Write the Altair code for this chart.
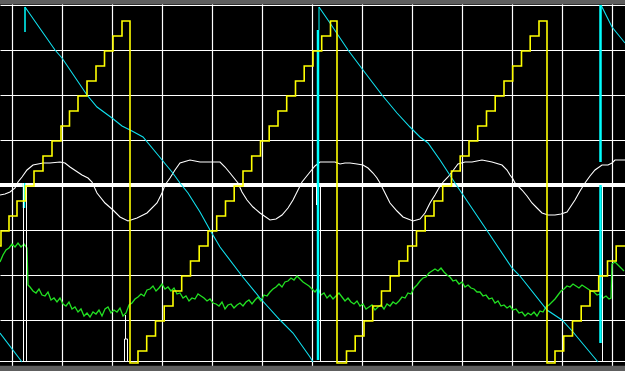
import altair as alt
import pandas as pd

# Horizontal: sample index (50 samples per division); vertical: raw counts (45 per division)
X_DOMAIN = [-12, 613]
Y_DOMAIN = [-186, 185]
grid_t = [0, 50, 100, 150, 200, 250, 300, 350, 400, 450, 500, 550, 600]
grid_y = [-135, -90, -45, 45, 90, 135, 180]

# ---- yellow staircase (counter) ----
yellow_levels = [-166, -151, -136, -121, -106, -91, -76, -61, -46, -31, -16, -1,
                 14, 29, 44, 59, 74, 89, 104, 119, 134, 149, 164]
yellow_low = -178
yellow_a_t = [-12, -11, -3, 5, 13.5, 22, 31, 40, 49, 57.5, 66, 75, 84, 92.5, 101, 110]   # k = 7..22
yellow_b_t = [126, 134.7, 143.5, 152.2, 161, 169.7, 178.5, 187.2, 196, 204.7, 213.5, 222.2,
              231, 239.7, 248.5, 257.2, 266, 274.7, 283.5, 292.2, 301, 309.7, 318.5]
yellow_c_t = [334.5, 343.2, 352, 360.7, 369.5, 378.2, 387, 395.7, 404.5, 413.2, 422, 430.7,
              439.5, 448.2, 457, 465.7, 474.5, 483.2, 492, 500.7, 509.5, 518.2, 527]
yellow_d_t = [543, 551.7, 560.5, 569.2, 578, 586.7, 595.5, 604.2]                          # k = 0..7
yellow_drops = [118, 325, 535]

# ---- cyan ramp ----
cyan_seg0_t = [-12, 10]
cyan_seg0_y = [-148, -177]
cyan_seg1_t = [13, 43, 50, 75, 85, 100, 110, 120, 131, 146, 155, 160, 168, 176, 188, 198, 208,
               230, 248, 268, 281, 298, 301]
cyan_seg1_y = [178, 135, 127, 90, 78, 67, 59, 54, 48, 30, 19, 13, 2, -8, -27, -45, -62,
               -91, -113, -135, -148, -172, -177]
cyan_seg2_t = [307, 318, 336, 351, 370, 385, 398, 408, 416, 428, 443, 476, 500, 508, 535, 550, 561, 586]
cyan_seg2_y = [178, 162, 135, 115, 90, 72, 58, 48, 42, 25, 2, -47, -83, -91, -125, -135, -147, -177]
cyan_seg3_t = [589, 600, 613]
cyan_seg3_y = [180, 158, 142]

# ---- white smooth wave ----
white_t = [-12, -7, -2, 3, 6, 10, 15, 21, 31, 38, 48, 53, 58, 64, 70, 76, 80, 85, 93, 101, 108, 116,
           125, 135, 145, 150, 153, 158, 163, 168, 178, 188, 198, 208, 213, 218, 222, 226, 230, 235,
           241, 248, 258, 264, 270, 276, 281, 286, 290, 294, 298, 303, 308, 323, 328, 333, 338, 345,
           351, 356, 361, 365, 368, 373, 378, 385, 391, 401, 408, 413, 418, 423, 428, 432, 436, 440,
           446, 453, 460, 470, 480, 490, 495, 498, 501, 503, 510, 515, 520, 525, 530, 536, 543, 549,
           555, 559, 563, 568, 573, 578, 583, 590, 596, 600, 603, 613]
white_y = [-10, -9, -7, -3, 3, 8, 15, 20, 22, 22, 23, 22, 18, 14, 10, 7, 3, -8, -18, -25, -32, -36,
           -33, -28, -18, -8, 0, 7, 15, 22, 25, 23, 23, 23, 18, 12, 7, 2, -7, -15,
           -22, -28, -35, -34, -30, -23, -15, -5, 3, 8, 13, 19, 23, 23, 21, 22, 22, 21,
           20, 17, 12, 7, 2, -8, -18, -26, -32, -36, -34, -28, -18, -10, -1, 4, 8, 13,
           21, 23, 23, 25, 23, 20, 15, 10, 6, 2, -5, -11, -18, -23, -28, -30, -30, -29,
           -27, -21, -15, -6, 2, 9, 15, 20, 20, 22, 25, 25]

# ---- green noisy trace ----
green_head_t = [-12, -9, -6, -3, 0, 3, 6, 9, 12, 15, 16]
green_head_y = [-77, -70, -65, -63, -59, -62, -58, -62, -59, -63, -100]
green_body_y = [
    -102, -106, -108, -104, -110, -111, -107, -115, -113, -117,
    -113, -119, -121, -117, -124, -122, -127, -124, -131, -128,
    -132, -127, -129, -125, -131, -124, -122, -128, -125, -127,
    -123, -131, -128, -120, -118, -114, -112, -109, -111, -105,
    -104, -101, -106, -103, -99, -104, -102, -106, -103, -109,
    -108, -113, -111, -116, -113, -114, -109, -111, -113, -116,
    -114, -118, -119, -121, -117, -124, -120, -119, -123, -120,
    -118, -121, -117, -115, -119, -115, -112, -116, -110, -111,
    -107, -104, -102, -99, -102, -97, -96, -93, -95, -91,
    -94, -97, -99, -101, -104, -107, -103, -110, -108, -113,
    -110, -114, -111, -108, -112, -116, -113, -117, -119, -116,
    -121, -119, -124, -122, -120, -125, -122, -120, -124, -119,
    -121, -117, -119, -116, -112, -113, -108, -109, -103, -100,
    -96, -93, -92, -88, -86, -84, -86, -83, -87, -90,
    -92, -96, -95, -99, -97, -102, -100, -103, -104, -107,
    -107, -111, -110, -114, -113, -118, -116, -121, -120, -123,
    -121, -125, -124, -128, -127, -131, -128, -130, -127, -131,
    -126, -127, -122, -120, -117, -114, -110, -106, -104, -101,
    -102, -99, -101, -103, -100, -102, -104, -106, -107, -110,
    -109, -113, -111, -114]
green_body_t = list(range(18, 598, 3))  # sampling clock
green_tail_t = [599, 600, 603, 606, 609, 612]
green_tail_y = [-113, -79, -77, -80, -83, -86]

# ---- vertical markers / retrace strokes: (t, y1, y2, colour, width) ----
v_t = [13, 12, 307, 306, 588.5, 588.5, 11.5, 14.5, 113.5, 112.5, 115.5, 304.5, 308.5, 590.5]
v_y1 = [178, 2, 178, 155, 180, 0, 2, 2, -130, -154, -154, 0, 2, 2]
v_y2 = [153, -23, 155, -175, 23, -158, -176.5, -176.5, -154, -176.5, -176.5, -20, -176.5, -176.5]
v_col = ["cyan", "cyan", "cyan", "cyan", "cyan", "cyan", "white", "white", "white", "white",
         "white", "white", "white", "white"]
v_w = [1.5, 2.5, 1, 2.5, 2.5, 2.5, 1, 1, 1, 1, 1, 1, 1, 1]

# ---------------- build tables ----------------
yrows = []
for t, lv in zip(yellow_a_t, yellow_levels[7:]):
    yrows.append((t, lv))
yrows.append((yellow_drops[0], yellow_low))
for t, lv in zip(yellow_b_t, yellow_levels):
    yrows.append((t, lv))
yrows.append((yellow_drops[1], yellow_low))
for t, lv in zip(yellow_c_t, yellow_levels):
    yrows.append((t, lv))
yrows.append((yellow_drops[2], yellow_low))
for t, lv in zip(yellow_d_t, yellow_levels):
    yrows.append((t, lv))
yrows.append((613, yellow_levels[7]))
yellow_df = pd.DataFrame(yrows, columns=["t", "y"])

crows = []
for s, (ts, ys_) in enumerate([(cyan_seg0_t, cyan_seg0_y), (cyan_seg1_t, cyan_seg1_y),
                               (cyan_seg2_t, cyan_seg2_y), (cyan_seg3_t, cyan_seg3_y)]):
    for t, v in zip(ts, ys_):
        crows.append((s, t, v))
cyan_df = pd.DataFrame(crows, columns=["seg", "t", "y"])

white_df = pd.DataFrame({"t": white_t, "y": white_y})
green_df = pd.DataFrame({
    "t": green_head_t + green_body_t + green_tail_t,
    "y": green_head_y + green_body_y + green_tail_y,
})
vert_df = pd.DataFrame({"t": v_t, "y1": v_y1, "y2": v_y2, "c": v_col, "w": v_w})
hor_df = pd.DataFrame({"t1": [-12, 112.5, -12], "t2": [613, 115.5, 613], "y": [0, -154, -176.5],
                       "w": [4, 1, 1.2]})
bars_df = pd.DataFrame({"t1": [-12, -12], "t2": [613, 613], "y1": [180.6, -180.8], "y2": [185, -186]})

xs = alt.Scale(domain=X_DOMAIN, nice=False, zero=False)
ys = alt.Scale(domain=Y_DOMAIN, nice=False, zero=False)
xax = alt.Axis(values=grid_t, grid=True, gridColor="white", gridWidth=1.2, gridOpacity=1,
               labels=False, ticks=False, domain=False, title=None)
yax = alt.Axis(values=grid_y, grid=True, gridColor="white", gridWidth=1.2, gridOpacity=1,
               labels=False, ticks=False, domain=False, title=None)

grid = alt.Chart(bars_df).mark_rect(color="#5e5e5e").encode(
    x=alt.X("t1:Q", scale=xs, axis=xax), x2="t2:Q",
    y=alt.Y("y1:Q", scale=ys, axis=yax), y2="y2:Q")

hlines = alt.Chart(hor_df).mark_rule(color="white").encode(
    x=alt.X("t1:Q", scale=xs), x2="t2:Q", y=alt.Y("y:Q", scale=ys),
    strokeWidth=alt.StrokeWidth("w:Q", scale=None))

white_line = alt.Chart(white_df).mark_line(color="white", strokeWidth=1.1, clip=True).encode(
    x=alt.X("t:Q", scale=xs), y=alt.Y("y:Q", scale=ys))

green_line = alt.Chart(green_df).mark_line(color="#22e022", strokeWidth=1.3, clip=True).encode(
    x=alt.X("t:Q", scale=xs), y=alt.Y("y:Q", scale=ys))

vlines = alt.Chart(vert_df).mark_rule().encode(
    x=alt.X("t:Q", scale=xs), y=alt.Y("y1:Q", scale=ys), y2="y2:Q",
    color=alt.Color("c:N", scale=None), strokeWidth=alt.StrokeWidth("w:Q", scale=None))

cyan_line = alt.Chart(cyan_df).mark_line(color="#10e0ee", strokeWidth=1.1, clip=True).encode(
    x=alt.X("t:Q", scale=xs), y=alt.Y("y:Q", scale=ys), detail="seg:N")

yellow_line = alt.Chart(yellow_df).mark_line(color="#ffff00", strokeWidth=1.6, clip=True,
                                             interpolate="step-after").encode(
    x=alt.X("t:Q", scale=xs), y=alt.Y("y:Q", scale=ys))

chart = alt.layer(grid, hlines, white_line, green_line, cyan_line, vlines, yellow_line).properties(
    width=625, height=371, background="black", padding=0,
    autosize=alt.AutoSizeParams(type="none"),
).configure_view(stroke=None, fill="black")

chart.save("out.html", embed_options={"renderer": "svg", "actions": False})
